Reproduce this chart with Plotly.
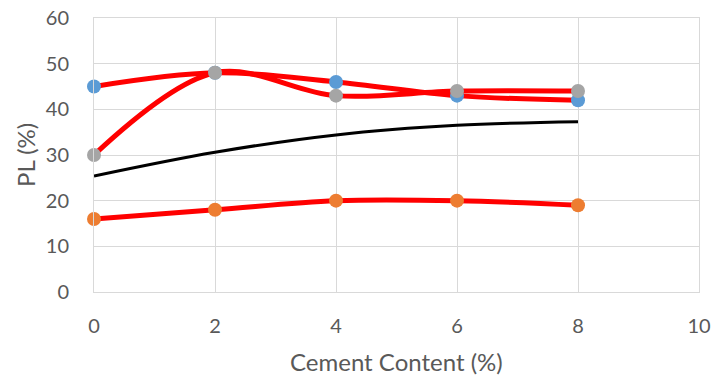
import plotly.graph_objects as go

cement = [0, 2, 4, 6, 8]
pl_blue = [45, 48, 46, 43, 42]
pl_orange = [16, 18, 20, 20, 19]
pl_gray = [30, 48, 43, 44, 44]
trend = [25.4, 30.6, 34.4, 36.5, 37.3]

x_ticks = [0, 2, 4, 6, 8, 10]
y_ticks = [0, 10, 20, 30, 40, 50, 60]

RED = "#FF0000"
FONT = "Lato"
TXT = "#595959"
GRID = "#D9D9D9"

fig = go.Figure()
for vals, col in [(pl_blue, "#5B9BD5"), (pl_orange, "#ED7D31"), (pl_gray, "#A5A5A5")]:
    fig.add_trace(go.Scatter(
        x=cement, y=vals, mode="lines+markers",
        line=dict(color=RED, width=5, shape="spline", smoothing=1),
        marker=dict(color=col, size=14, line=dict(width=0)),
        showlegend=False, cliponaxis=False))
fig.add_trace(go.Scatter(
    x=cement, y=trend, mode="lines",
    line=dict(color="black", width=3, shape="spline", smoothing=1),
    showlegend=False))

fig.update_layout(
    width=713, height=380,
    margin=dict(l=94, r=14, t=18, b=88),
    paper_bgcolor="white", plot_bgcolor="white",
    font=dict(family=FONT, color=TXT, size=20),
    xaxis=dict(range=[0, 10], tickvals=x_ticks, showgrid=True, gridcolor=GRID,
               gridwidth=1, zeroline=False, showline=True, linecolor=GRID,
               mirror=True, ticks="", ticklabelstandoff=16, automargin=False,
               tickfont=dict(family=FONT, size=20, color=TXT)),
    yaxis=dict(range=[0, 60], tickvals=y_ticks, showgrid=True, gridcolor=GRID,
               gridwidth=1, zeroline=False, showline=True, linecolor=GRID,
               mirror=True, ticks="", ticklabelstandoff=20, automargin=False,
               tickfont=dict(family=FONT, size=20, color=TXT)),
    annotations=[
        dict(text="Cement Content (%)", xref="paper", yref="paper", x=0.5, y=0,
             xanchor="center", yanchor="middle", yshift=-69, showarrow=False,
             font=dict(family=FONT, size=24, color=TXT)),
        dict(text="PL (%)", xref="paper", yref="paper", x=0, y=0.5,
             xanchor="center", yanchor="middle", xshift=-69, textangle=-90,
             showarrow=False, font=dict(family=FONT, size=24, color=TXT)),
    ],
)
fig.write_html("out.html", config={"displayModeBar": False},
               post_script="document.body.style.margin='0';document.body.style.overflow='hidden';")
